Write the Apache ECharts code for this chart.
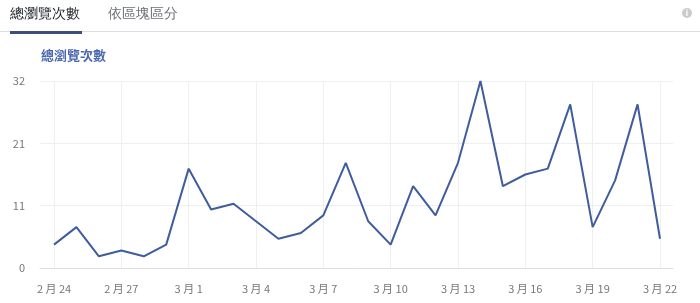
<!DOCTYPE html>
<html>
<head>
<meta charset="utf-8">
<script src="https://cdn.jsdelivr.net/npm/echarts@6/dist/echarts.min.js"></script>
<style>
html,body{margin:0;padding:0;background:#fff;}
#c{width:700px;height:303px;}
</style>
</head>
<body>
<div id="c"></div>
<script>
const categories = ['2 月 24','2 月 25','2 月 26','2 月 27','2 月 28','2 月 29',
  '3 月 1','3 月 2','3 月 3','3 月 4','3 月 5','3 月 6','3 月 7','3 月 8','3 月 9',
  '3 月 10','3 月 11','3 月 12','3 月 13','3 月 14','3 月 15','3 月 16','3 月 17',
  '3 月 18','3 月 19','3 月 20','3 月 21','3 月 22'];
const views = [4,7,2,3,2,4,17,10,11,8,5,6,9,18,8,4,14,9,18,32,14,16,17,28,7,15,28,5];
const yMax = 32;
const tabLabels = ['總瀏覽次數','依區塊區分'];
const chartTitle = '總瀏覽次數';

const font = '"Noto Sans CJK TC", "Noto Sans", sans-serif';
const chart = echarts.init(document.getElementById('c'));
chart.setOption({
  animation: false,
  backgroundColor: '#fff',
  textStyle: {fontFamily: font},
  title: {
    text: chartTitle, left: 36, top: 44,
    textStyle: {fontSize: 13, color: '#4a67b0', fontWeight: 'bold', fontFamily: font}
  },
  graphic: [
    {type: 'rect', left: 0, top: 31, shape: {width: 700, height: 1}, style: {fill: '#dddfe2'}},
    {type: 'rect', left: 10, top: 31, shape: {width: 72, height: 3}, style: {fill: '#3b4f7a'}},
    {type: 'text', left: 10, top: 7, style: {text: tabLabels[0], fontSize: 14, fill: '#1d2129', font: '14px ' + font}},
    {type: 'text', left: 108, top: 7, style: {text: tabLabels[1], fontSize: 14, fill: '#6b6f76', font: '14px ' + font}},
    {type: 'circle', shape: {cx: 687, cy: 13, r: 5}, style: {fill: '#c8cbd0'}},
    {type: 'text', x: 687, y: 13, style: {text: 'i', fill: '#fff', font: 'bold 8px ' + font, align: 'center', verticalAlign: 'middle'}}
  ],
  grid: [
    {left: 54, right: 40, top: 81, bottom: 35},
    {left: 40, right: 27, top: 81, bottom: 35}
  ],
  xAxis: [
    {
      type: 'category', gridIndex: 0, data: categories, boundaryGap: false,
      axisLine: {show: false}, axisTick: {show: false},
      axisLabel: {interval: 2, color: '#777', fontSize: 11, margin: 15, fontFamily: font},
      splitLine: {show: true, interval: 2, lineStyle: {color: '#eeeff1', width: 1}}
    },
    {
      type: 'value', gridIndex: 1, min: 0, max: 1,
      axisLine: {show: true, onZero: false, lineStyle: {color: '#dddfe2', width: 1}},
      axisTick: {show: false}, axisLabel: {show: false}, splitLine: {show: false}
    }
  ],
  yAxis: [
    {type: 'value', gridIndex: 0, min: 0, max: yMax, interval: yMax / 3, show: false, splitLine: {show: false}},
    {
      type: 'value', gridIndex: 1, min: 0, max: yMax, interval: yMax / 3,
      axisLine: {show: false}, axisTick: {show: false},
      axisLabel: {color: '#777', fontSize: 11, margin: 15, fontFamily: font, formatter: v => String(Math.round(v))},
      splitLine: {show: true, lineStyle: {color: '#eeeff1', width: 1}}
    }
  ],
  series: [{
    type: 'line', xAxisIndex: 0, yAxisIndex: 0, data: views,
    showSymbol: false, symbol: 'none',
    lineStyle: {color: '#3f5c9c', width: 2}
  }]
});
</script>
</body>
</html>
